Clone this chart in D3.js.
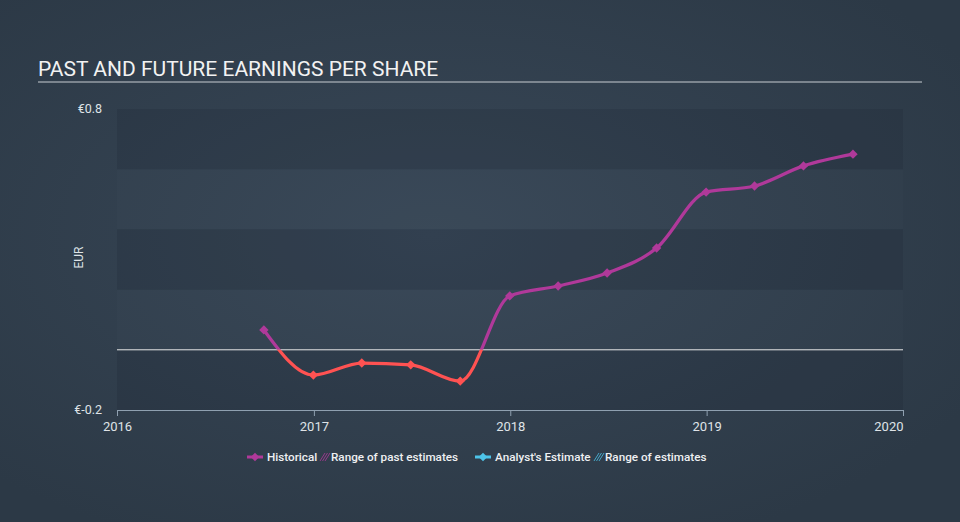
<!DOCTYPE html>
<html>
<head>
<meta charset="utf-8">
<script src="https://cdn.jsdelivr.net/npm/d3@7"></script>
<style>
  html, body { margin: 0; padding: 0; background: #333f4e; }
  svg { display: block; font-family: Roboto, "Open Sans", sans-serif; }
</style>
</head>
<body>
<svg id="chart" width="960" height="522"></svg>
<script>
// ---- data ----
const dates = ["2016-09-30","2016-12-31","2017-03-31","2017-06-30","2017-09-30","2017-12-31",
               "2018-03-31","2018-06-30","2018-09-30","2018-12-31","2019-03-31","2019-06-30","2019-09-30"];
const eps = [0.066, -0.084, -0.044, -0.050, -0.104, 0.179, 0.212, 0.255, 0.338, 0.524, 0.544, 0.611, 0.650];
const yTicks = [-0.2, 0.8];
const xTickYears = [2016, 2017, 2018, 2019, 2020];
const chartTitle = "PAST AND FUTURE EARNINGS PER SHARE";
const legendItems = ["Historical", "Range of past estimates", "Analyst's Estimate", "Range of estimates"];

(function () {
// ---- layout ----
const W = 960, H = 522;
const pL = 117, pR = 903, pT = 109, pB = 410;
const svg = d3.select("#chart");
const defs = svg.append("defs");

const bg = defs.append("radialGradient").attr("id", "bg")
  .attr("cx", "45%").attr("cy", "45%").attr("r", "65%");
bg.append("stop").attr("offset", "0%").attr("stop-color", "#384757");
bg.append("stop").attr("offset", "100%").attr("stop-color", "#2c3946");
svg.append("rect").attr("width", W).attr("height", H).attr("fill", "url(#bg)");

const parse = d3.timeParse("%Y-%m-%d");
const data = dates.map((d, i) => ({ date: parse(d), v: eps[i] }));

const x = d3.scaleTime()
  .domain([new Date(2016, 0, 1), new Date(2020, 0, 1)])
  .range([pL, pR]);
const y = d3.scaleLinear().domain([-0.2, 0.8]).range([pB, pT]);

// bands
const bandEdges = d3.range(-0.2, 0.8001, 0.2).map(v => +v.toFixed(2));
for (let i = 0; i < bandEdges.length - 1; i++) {
  const lo = bandEdges[i], hi = bandEdges[i + 1];
  svg.append("rect")
    .attr("x", pL).attr("width", pR - pL)
    .attr("y", y(hi)).attr("height", y(lo) - y(hi))
    .attr("fill", i % 2 === 0 ? "rgba(20,30,42,0.15)" : "rgba(255,255,255,0.01)");
}

// title
svg.append("text").attr("x", 38).attr("y", 76)
  .attr("fill", "#f2f2f2").attr("font-size", 21).text(chartTitle);
svg.append("line").attr("x1", 38).attr("x2", 922).attr("y1", 82).attr("y2", 82)
  .attr("stroke", "#c8cdd2").attr("stroke-width", 1);

// zero line
svg.append("line").attr("x1", pL).attr("x2", pR)
  .attr("y1", y(0)).attr("y2", y(0))
  .attr("stroke", "#e8e8e8").attr("stroke-width", 1);

// y labels
svg.selectAll(".ylab").data(yTicks).enter().append("text")
  .attr("x", 102).attr("y", d => y(d) + 4)
  .attr("text-anchor", "end").attr("fill", "#dfe3e7").attr("font-size", 12.5)
  .text(d => "€" + d);
svg.append("text")
  .attr("transform", `translate(83,${(pT + pB) / 2 - 2}) rotate(-90)`)
  .attr("text-anchor", "middle").attr("fill", "#dfe3e7").attr("font-size", 12)
  .text("EUR");

// x axis
const xAxis = d3.axisBottom(x)
  .tickValues(xTickYears.map(yr => new Date(yr, 0, 1)))
  .tickFormat(d3.timeFormat("%Y"))
  .tickSize(6).tickSizeOuter(0);
const gx = svg.append("g").attr("transform", `translate(0,${pB})`).call(xAxis);
gx.select(".domain").attr("stroke", "#8fa0b0");
gx.selectAll(".tick line").attr("stroke", "#8fa0b0");
gx.selectAll(".tick text").attr("fill", "#dfe3e7").attr("font-size", 13)
  .attr("font-family", "Roboto, sans-serif").attr("dy", "0.9em");
gx.selectAll(".tick text").filter((d, i, n) => i === n.length - 1).attr("text-anchor", "end");

// line, split by sign
const line = d3.line().x(d => x(d.date)).y(d => y(d.v)).curve(d3.curveMonotoneX);
defs.append("clipPath").attr("id", "above").append("rect")
  .attr("x", 0).attr("y", 0).attr("width", W).attr("height", y(0));
defs.append("clipPath").attr("id", "below").append("rect")
  .attr("x", 0).attr("y", y(0)).attr("width", W).attr("height", H - y(0));

const purple = "#b0399a", red = "#ff5252";
[["above", purple], ["below", red]].forEach(([clip, col]) => {
  const g = svg.append("g").attr("clip-path", `url(#${clip})`);
  g.append("path").datum(data).attr("d", line)
    .attr("fill", "none").attr("stroke", col).attr("stroke-width", 3.2);
  g.selectAll("path.pt").data(data).enter().append("path")
    .attr("class", "pt")
    .attr("d", d3.symbol().type(d3.symbolSquare).size(44))
    .attr("transform", d => `translate(${x(d.date)},${y(d.v)}) rotate(45)`)
    .attr("fill", col);
});

// legend
const lg = svg.append("g").attr("font-size", 11.7).attr("fill", "#eef0f2")
  .attr("font-weight", 500);
function legendMarker(cx, cy, col) {
  lg.append("line").attr("x1", cx - 8).attr("x2", cx + 8).attr("y1", cy).attr("y2", cy)
    .attr("stroke", col).attr("stroke-width", 3);
  lg.append("path").attr("d", d3.symbol().type(d3.symbolSquare).size(36))
    .attr("transform", `translate(${cx},${cy}) rotate(45)`).attr("fill", col);
}
function hatch(x0, cy, col) {
  for (let k = 0; k < 3; k++) {
    lg.append("line").attr("x1", x0 + k * 2.5).attr("x2", x0 + k * 2.5 + 5)
      .attr("y1", cy + 4).attr("y2", cy - 4)
      .attr("stroke", col).attr("stroke-width", 1).attr("opacity", 0.8);
  }
}
const ly = 457;
legendMarker(255, ly, purple);
lg.append("text").attr("x", 267).attr("y", ly + 4).text(legendItems[0]);
hatch(320, ly, purple);
lg.append("text").attr("x", 331).attr("y", ly + 4).text(legendItems[1]);
legendMarker(483, ly, "#4dc3e8");
lg.append("text").attr("x", 495).attr("y", ly + 4).text(legendItems[2]);
hatch(594, ly, "#4dc3e8");
lg.append("text").attr("x", 605).attr("y", ly + 4).text(legendItems[3]);
})();
</script>
</body>
</html>
